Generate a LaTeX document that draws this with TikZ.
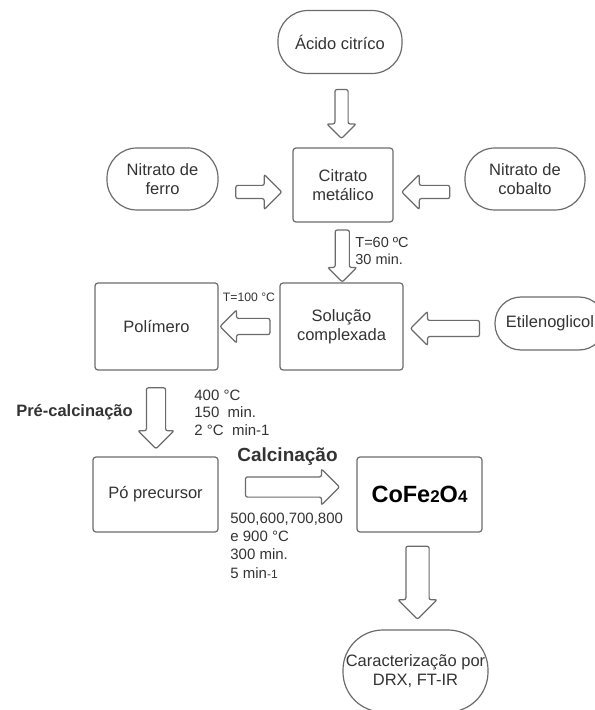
\documentclass[tikz,border=0pt]{standalone}
\usepackage{fontspec}
\setmainfont{Liberation Sans}
\usetikzlibrary{shapes.arrows,calc}

\definecolor{linegray}{HTML}{6B6B6B}
\definecolor{txtgray}{HTML}{333333}

\tikzset{
  caixa/.style={draw=linegray, line width=0.6pt, rounded corners=1.5pt, text=txtgray,
    align=center, inner sep=0pt, font=\fontsize{8.25}{9.5}\selectfont},
  reagente/.style={caixa, rounded corners=15pt},
  seta/.style={single arrow, draw=linegray, line width=0.6pt, fill=white,
    inner sep=0pt, minimum width=0pt, rounded corners=1pt},
  cond/.style={text=txtgray, align=left, inner sep=0pt},
  etapa/.style={text=txtgray, inner sep=0pt, font=\bfseries},
}

\begin{document}
\begin{tikzpicture}[x=0.5pt, y=-0.5pt]
      \useasboundingbox (0,0) rectangle (594,710);
      % caixas
      \node[reagente, minimum width=62pt, minimum height=31.5pt] (acido) at (340,42) {Ácido citríco};
      \node[caixa, minimum width=50pt, minimum height=37pt] (citrato) at (343,185) {Citrato\\metálico};
      \node[reagente, minimum width=55.5pt, minimum height=31pt] (ferro) at (162.5,179) {Nitrato de\\ferro};
      \node[reagente, minimum width=60pt, minimum height=31pt] (cobalto) at (525,179) {Nitrato de\\cobalto};
      \node[caixa, minimum width=61.5pt, minimum height=43.5pt] (solucao) at (341.5,326.5) {Solução\\complexada};
      \node[caixa, minimum width=61.5pt, minimum height=43.5pt] (polimero) at (156.5,326.5) {Polímero};
      \node[reagente, rounded corners=13pt, minimum width=55pt, minimum height=26.5pt] (etil) at (550,323.5) {Etilenoglicol};
      \node[caixa, minimum width=62.5pt, minimum height=37.5pt] (po) at (155.5,494.5) {Pó precursor};
      \node[caixa, minimum width=62.5pt, minimum height=37.5pt, text=black,
        font=\fontsize{11.75}{13}\selectfont\bfseries] (cofe) at (419.5,494.5)
        {CoFe{\fontsize{8.5}{9}\selectfont 2}O{\fontsize{8.5}{9}\selectfont 4}};
      \node[reagente, rounded corners=20pt, minimum width=72.5pt, minimum height=41pt] (caract) at (415.5,671) {Caracterização por\\DRX, FT-IR};
      % setas (vertical: shaft from inner xsep, horizontal: from inner ysep)
      \node[seta, shape border rotate=270, minimum height=24.5pt, inner xsep=3pt, single arrow head extend=4pt]
        (s1) at ($(acido.south)!0.5!(citrato.north)$) {};
      \node[seta, minimum height=23pt, inner ysep=3pt, single arrow head extend=5.5pt, yshift=-5pt]
        (s2) at ($(ferro.east)!0.5!(citrato.west)$) {};
      \node[seta, shape border rotate=180, minimum height=24pt, inner ysep=3pt, single arrow head extend=5.5pt, yshift=-5pt]
        (s3) at ($(cobalto.west)!0.5!(citrato.east)$) {};
      \node[seta, shape border rotate=270, minimum height=26pt, inner xsep=3.25pt, single arrow head extend=3.75pt]
        (s4) at ($(citrato.south)!0.5!(solucao.north)$) {};
      \node[seta, shape border rotate=180, minimum height=25pt, inner ysep=3.75pt, single arrow head extend=4.25pt]
        (s5) at ($(solucao.west)!0.5!(polimero.east)$) {};
      \node[seta, shape border rotate=180, minimum height=34.5pt, inner ysep=3.75pt, single arrow head extend=4.5pt, yshift=-1.75pt]
        (s6) at ($(etil.west)!0.5!(solucao.east)$) {};
      \node[seta, shape border rotate=270, minimum height=30.5pt, inner xsep=4.5pt, single arrow head extend=4.25pt]
        (s7) at ($(polimero.south)!0.5!(po.north)$) {};
      \node[seta, minimum height=47pt, inner ysep=4.75pt, single arrow head extend=4pt, yshift=3.75pt]
        (s8) at ($(po.east)!0.5!(cofe.west)$) {};
      \node[seta, shape border rotate=270, minimum height=36.5pt, inner xsep=5.5pt, single arrow head extend=4pt, yshift=2pt]
        (s9) at ($(cofe.south)!0.5!(caract.north)$) {};
      % condicoes
      \node[cond, anchor=west, font=\fontsize{7.25}{8.5}\selectfont] (c60) at (355,251.5) {T=60 ºC\\30 min.};
      \node[cond, font=\fontsize{6.1}{7}\selectfont] (c100) at (249,297) {T=100 °C};
      \node[etapa, font=\fontsize{8.25}{9.5}\selectfont\bfseries] (precalc) at (74.5,412) {Pré-calcinação};
      \node[cond, anchor=west, font=\fontsize{7.5}{8.75}\selectfont] (c400) at (194,412.5) {400 °C\\150\ \ min.\\2 °C\ \ min-1};
      \node[etapa, font=\fontsize{9.5}{11}\selectfont\bfseries] (calc) at (287.5,457) {Calcinação};
      \node[cond, anchor=west, font=\fontsize{7.5}{9.15}\selectfont] (c500) at (230,545.5)
        {500,600,700,800\\e 900 °C\\300 min.\\5 min{\fontsize{6}{7}\selectfont -1}};
\end{tikzpicture}
\end{document}
